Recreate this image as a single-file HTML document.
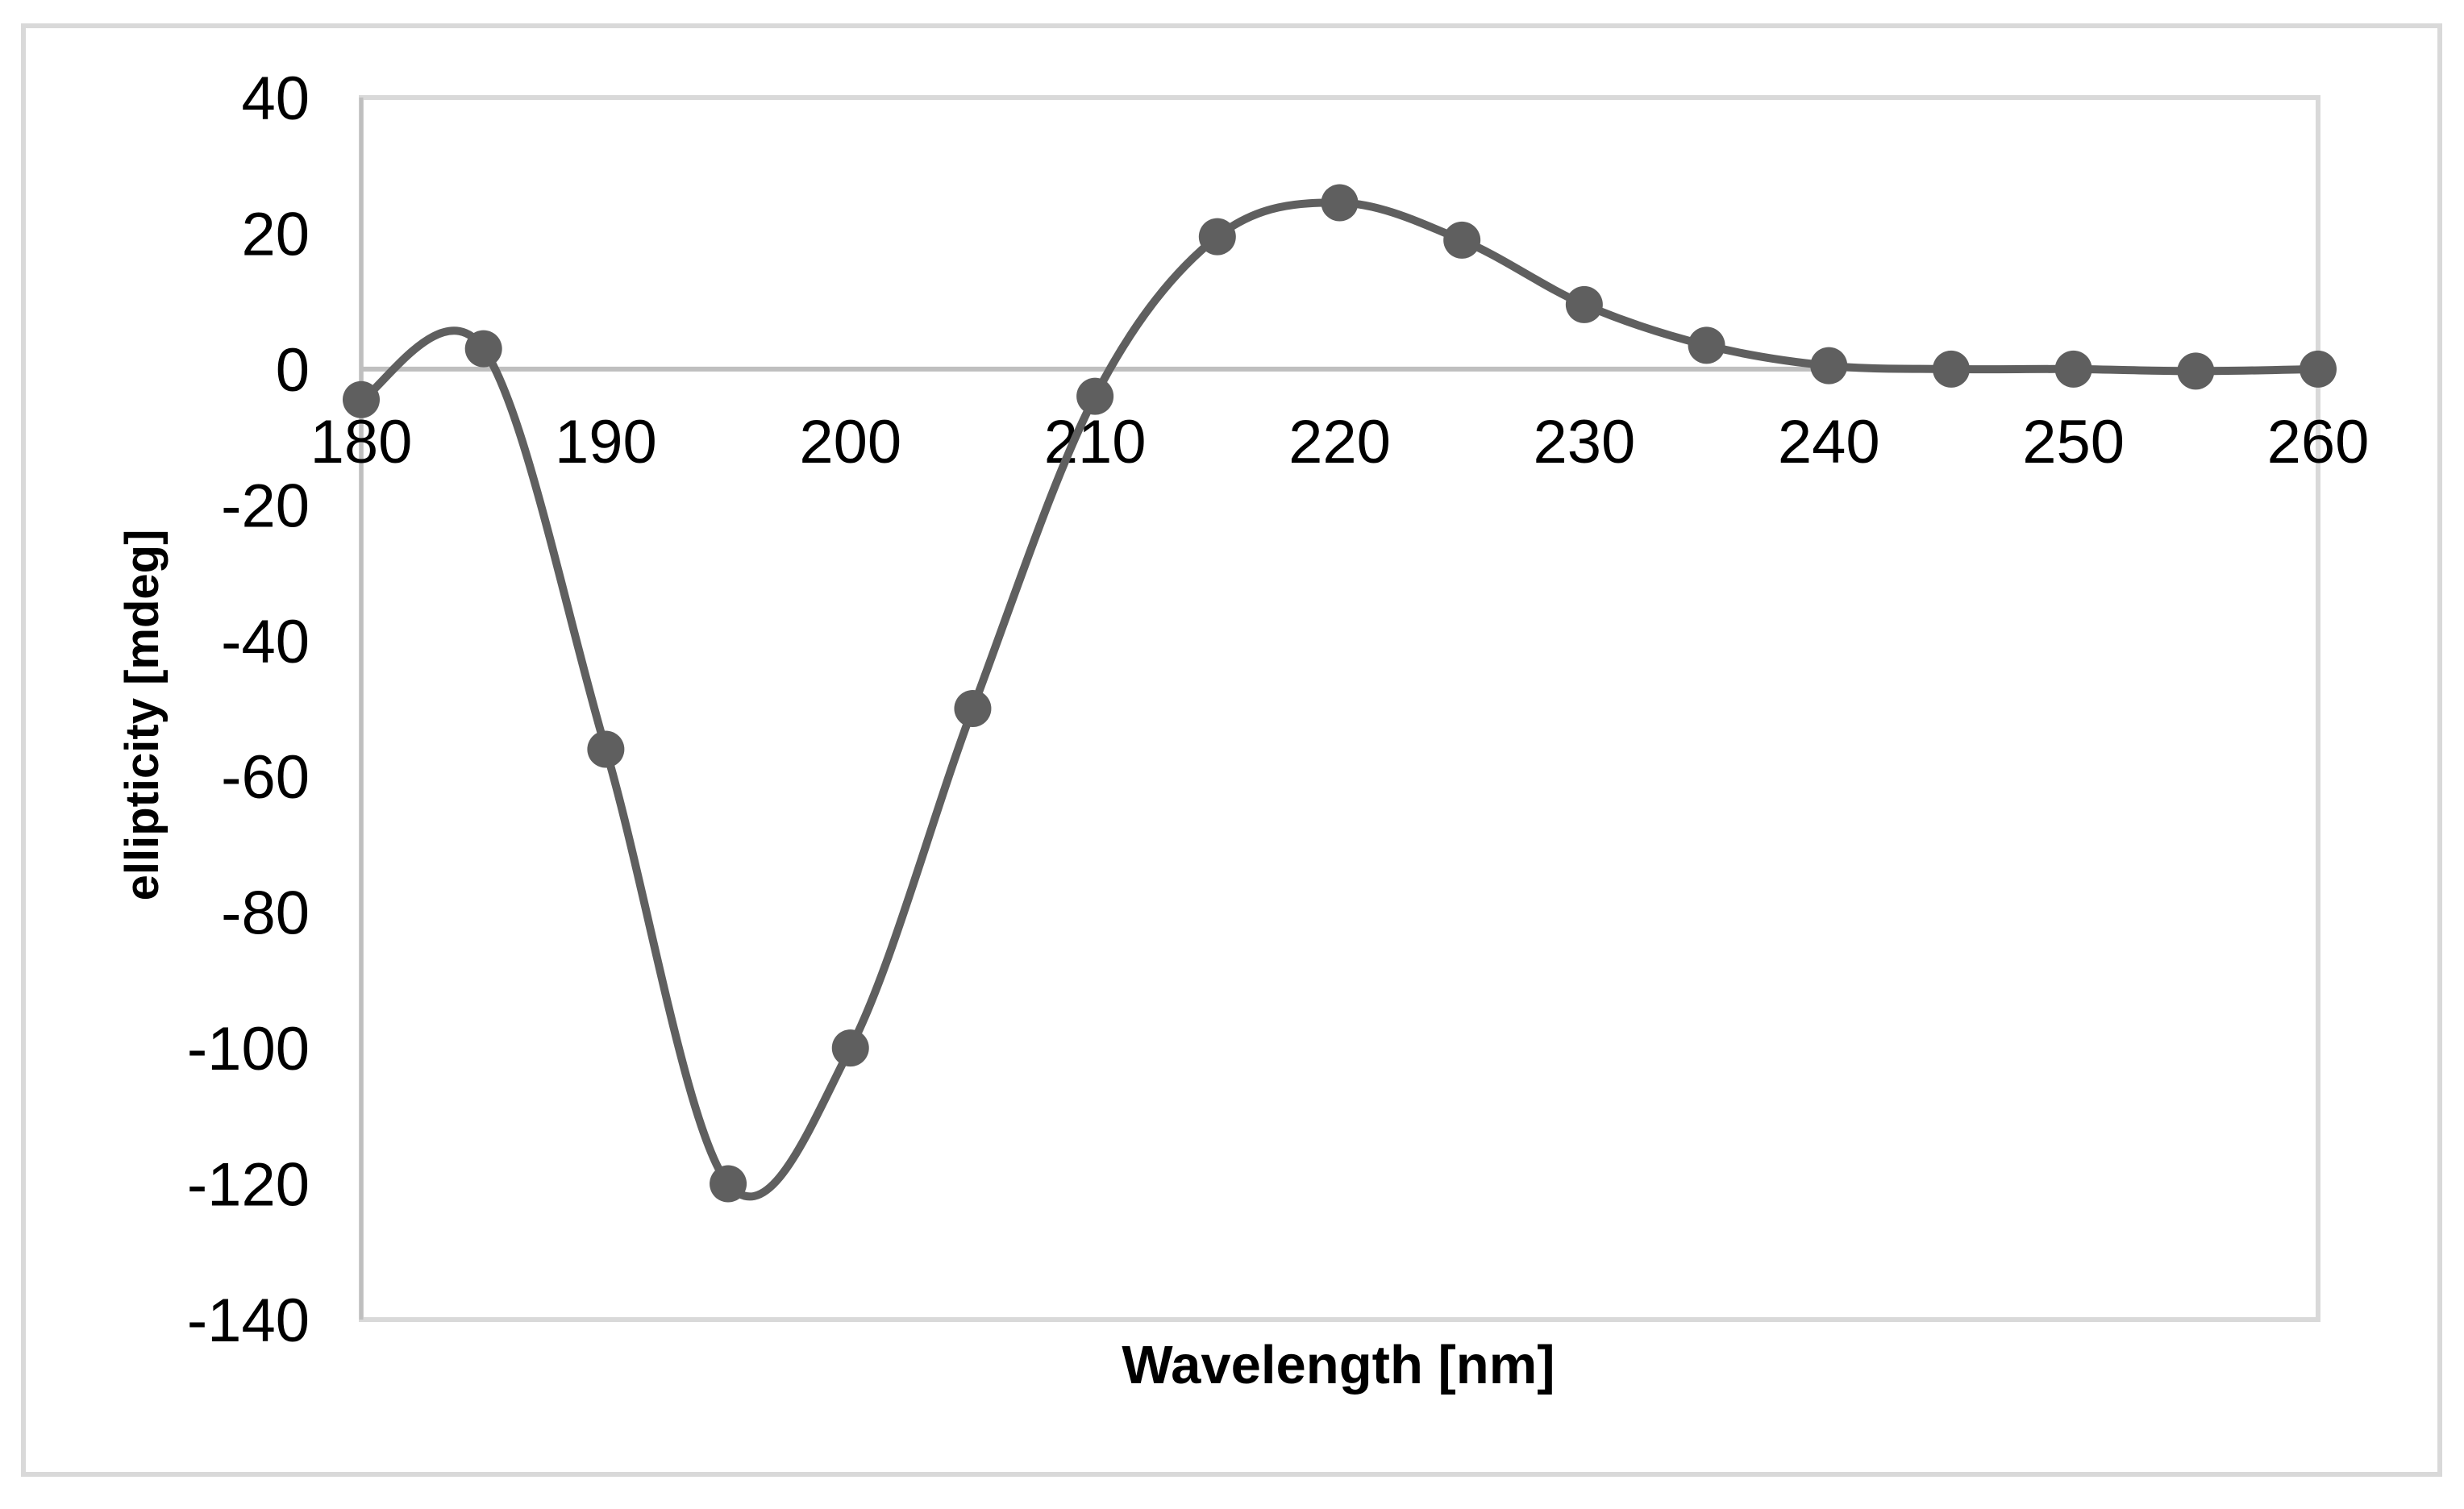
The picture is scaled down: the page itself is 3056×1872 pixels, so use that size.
<!DOCTYPE html>
<html><head><meta charset="utf-8"><style>
html,body{margin:0;padding:0;background:#fff;}
svg{display:block;font-family:"Liberation Sans",Arial,sans-serif;}
</style></head><body>
<svg id="chart" width="3056" height="1872" viewBox="0 0 3056 1872" xmlns="http://www.w3.org/2000/svg">
<rect x="29" y="32" width="2997" height="1797" fill="#fff" stroke="#d9d9d9" stroke-width="6"/>
<g id="plot"></g>
<text x="1660" y="1716" font-size="67" font-weight="bold" text-anchor="middle" fill="#000">Wavelength [nm]</text>
<text x="0" y="0" transform="translate(196,887) rotate(-90)" font-size="58" font-weight="bold" text-anchor="middle" fill="#000">ellipticity [mdeg]</text>
</svg>
<script>
const wavelengths=[180,185,190,195,200,205,210,215,220,225,230,235,240,245,250,255,260];
const ellipticity=[-4.5,3,-56,-120,-100,-50,-4,19.5,24.5,19,9.5,3.5,0.5,0,0,-0.3,0];
const xTicks=[180,190,200,210,220,230,240,250,260];
const yTicks=[40,20,0,-20,-40,-60,-80,-100,-120,-140];
const L=448,R=2875,T=121,B=1637;
const xMin=180,xMax=260,yMin=-140,yMax=40;
function sx(v){return L+(v-xMin)/(xMax-xMin)*(R-L);}
function sy(v){return T+(yMax-v)/(yMax-yMin)*(B-T);}
const NS="http://www.w3.org/2000/svg";
const g=document.getElementById('plot');
function mk(tag,attrs){const e=document.createElementNS(NS,tag);for(const k in attrs)e.setAttribute(k,attrs[k]);g.appendChild(e);return e;}
let e;
e=mk('rect',{x:L,y:T,width:R-L,height:B-T,fill:'none',stroke:'#d9d9d9','stroke-width':6});


e=mk('line',{x1:L,x2:R,y1:sy(0),y2:sy(0),stroke:'#bfbfbf','stroke-width':6});


e=mk('line',{x1:L,x2:L,y1:T,y2:B,stroke:'#bfbfbf','stroke-width':5});


yTicks.forEach(t=>{
  const el=mk('text',{x:384,y:sy(t)+27,'font-size':76,'text-anchor':'end',fill:'#000'});
  el.textContent=String(t);
  
  
});
xTicks.forEach(t=>{
  const el=mk('text',{x:sx(t),y:574,'font-size':76,'text-anchor':'middle',fill:'#000'});
  el.textContent=String(t);
  
  
});
const pts=wavelengths.map((w,i)=>[sx(w),sy(ellipticity[i])]);
let d='M'+pts[0][0]+','+pts[0][1];
const k=1/6;
for(let i=0;i<pts.length-1;i++){
  const p0=pts[Math.max(0,i-1)],p1=pts[i],p2=pts[i+1],p3=pts[Math.min(pts.length-1,i+2)];
  const c1=[p1[0]+(p2[0]-p0[0])*k,p1[1]+(p2[1]-p0[1])*k];
  const c2=[p2[0]-(p3[0]-p1[0])*k,p2[1]-(p3[1]-p1[1])*k];
  d+=' C'+c1[0]+','+c1[1]+' '+c2[0]+','+c2[1]+' '+p2[0]+','+p2[1];
}
e=mk('path',{d:d,fill:'none',stroke:'#5f5f5f','stroke-width':10,'stroke-linejoin':'round'});


pts.forEach(p=>{
  const c=mk('circle',{cx:p[0],cy:p[1],r:23,fill:'#5f5f5f'});
  
  
});
</script>
</body></html>
